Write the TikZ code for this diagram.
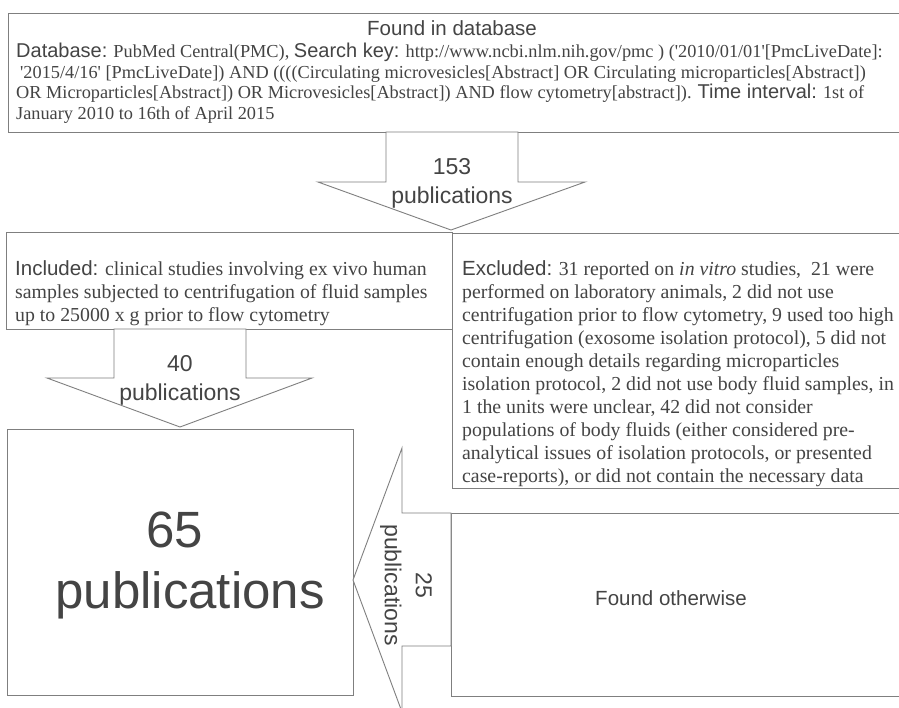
\documentclass[tikz,border=0pt]{standalone}
\usepackage{fontspec}
\setmainfont{Liberation Serif}
\setsansfont{Liberation Sans}
\definecolor{ln}{HTML}{7F7F7F}
\definecolor{tx}{HTML}{444444}
\newcommand\hdlbl[1]{{\fontsize{20}{20}\selectfont\sffamily #1}}
\newcommand\hdlblb[1]{{\fontsize{20.5}{20.5}\selectfont\sffamily #1}}
\begin{document}
\begin{tikzpicture}[x=1pt,y=-1pt,
  frame/.style={draw=ln,line width=1pt,fill=white,inner sep=0pt,anchor=north west},
  barrow/.style={draw=ln,line width=0.9pt,fill=white,line join=miter},
  arrlbl/.style={font=\fontsize{23}{29}\selectfont\sffamily,text=tx,align=center,inner sep=0pt},
  bodytxt/.style={text=tx,align=left,inner sep=0pt,anchor=north west},
  plainlbl/.style={font=\fontsize{20.5}{23}\selectfont\sffamily,text=tx,inner sep=0pt}]
\useasboundingbox (0,0) rectangle (899,707);
\clip (0,0) rectangle (899,707);
\fill[white] (0,0) rectangle (899,707);

% boxes
\node[frame,minimum width=920pt,minimum height=119pt] (topbox) at (8,13) {};
\node[frame,minimum width=446pt,minimum height=97pt] (incbox) at (6,232) {};
\node[frame,minimum width=470pt,minimum height=255pt] (excbox) at (452,233) {};
\node[frame,minimum width=346pt,minimum height=266pt] (box65) at (7,429) {};
\node[frame,minimum width=470pt,minimum height=183pt] (foundbox) at (451,513) {};

% block arrows
\draw[barrow] (386,132) -- (518,132) -- (518,182) -- (585,182) -- (451,230)
  -- (318,182) -- (386,182) -- cycle;
\draw[barrow] (114,329) -- (246,329) -- (246,378) -- (312,378) -- (180,427)
  -- (47,378) -- (114,378) -- cycle;
\draw[barrow] (353,580) -- (402,448) -- (402,513) -- (451,513) -- (451,646)
  -- (402,646) -- (402,712) -- cycle;

% texts
\node[plainlbl] (toptitle) at (452,28) {Found in database};
\node[bodytxt,font=\fontsize{18.3}{20.5}\selectfont] (topbody) at (16,43)
 {\hdlbl{Database:} PubMed Central(PMC), \hdlbl{Search key:} http://www.ncbi.nlm.nih.gov/pmc ) (\textquotesingle 2010/01/01\textquotesingle[PmcLiveDate]:\\
 \hspace*{4pt}\textquotesingle 2015/4/16\textquotesingle\ [PmcLiveDate]) AND ((((Circulating microvesicles[Abstract] OR Circulating microparticles[Abstract])\\
 OR Microparticles[Abstract]) OR Microvesicles[Abstract]) AND flow cytometry[abstract]). \hdlbl{Time interval:} 1st of\\
 January 2010 to 16th of April 2015};

\node[bodytxt,font=\fontsize{19.8}{23}\selectfont] (inctxt) at (15,260)
 {\hdlblb{Included:} clinical studies involving ex vivo human\\
 samples subjected to centrifugation of fluid samples\\
 up to 25000 x g prior to flow cytometry};

\node[bodytxt,font=\fontsize{19.8}{23}\selectfont] (exctxt) at (462,260)
 {\hdlblb{Excluded:} 31 reported on \textit{in vitro} studies, \ 21 were\\
 performed on laboratory animals, 2 did not use\\
 centrifugation prior to flow cytometry, 9 used too high\\
 centrifugation (exosome isolation protocol), 5 did not\\
 contain enough details regarding microparticles\\
 isolation protocol, 2 did not use body fluid samples, in\\
 1 the units were unclear, 42 did not consider\\
 populations of body fluids (either considered pre-\\
 analytical issues of isolation protocols, or presented\\
 case-reports), or did not contain the necessary data};

\node[arrlbl] (lbl153) at (452,183) {153\\publications};
\node[arrlbl] (lbl40) at (180,380) {40\\publications};
\node[arrlbl,rotate=-90,font=\fontsize{23}{31}\selectfont\sffamily] (lbl25) at (406,585) {25\\publications};

\node[font=\fontsize{51}{61}\selectfont\sffamily,text=tx,align=center,inner sep=0pt] (lbl65) at (181,565)
 {\hspace*{-12pt}65\\\hspace*{18pt}publications};

\node[plainlbl] (foundlbl) at (671,598) {Found otherwise};
\end{tikzpicture}
\end{document}
